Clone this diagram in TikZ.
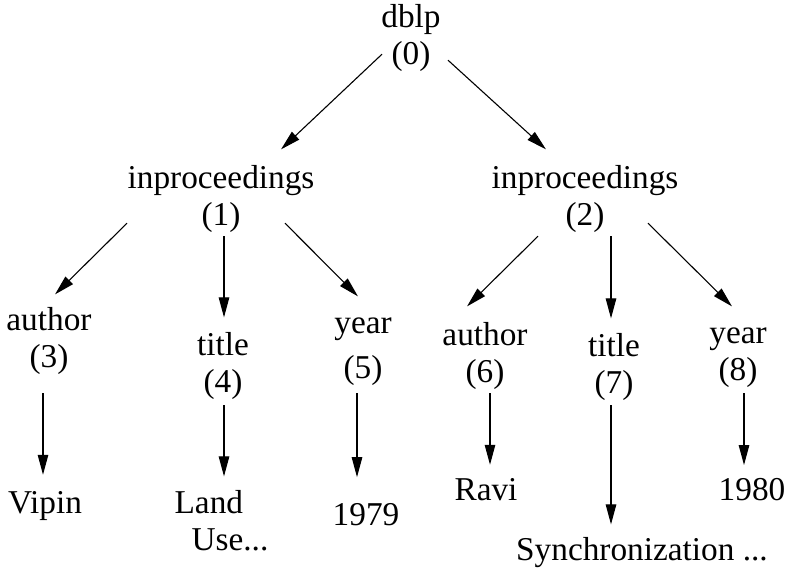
\documentclass[tikz,border=0pt]{standalone}
\usepackage{fontspec}
\setmainfont{Liberation Serif}
\usetikzlibrary{arrows.meta}

\tikzset{
  elem/.style={inner sep=0pt, align=center, anchor=base},
  val/.style={inner sep=0pt, anchor=base},
  link/.style={line width=1.1pt, -{Triangle[length=20pt,width=10.5pt]}}
}

\begin{document}
\begin{tikzpicture}[x=1pt,y=-1pt,font=\fontsize{33.3}{36.5}\selectfont]
	\useasboundingbox (0,0) rectangle (789,570);
	% element nodes
	\node[elem] (n0) at (411,64) {dblp\\(0)};
	\node[elem] (n1) at (221,225) {inproceedings\\(1)};
	\node[elem] (n2) at (585,225) {inproceedings\\(2)};
	\node[elem] (n3) at (49,367) {author\\(3)};
	\node[elem] (n4) at (223,392) {title\\(4)};
	\node[elem] (n5) at (363,378) {year\\[8.5pt](5)};
	\node[elem] (n6) at (485,382) {author\\(6)};
	\node[elem] (n7) at (614,393) {title\\(7)};
	\node[elem] (n8) at (738,380) {year\\(8)};
	% text values
	\node[val] (vipin) at (45,513) {Vipin};
	\node[elem,align=left] (land) at (221.5,550) {Land\\\hspace*{17pt}Use...};
	\node[val] (y1979) at (366,525) {1979};
	\node[val] (ravi) at (486,500) {Ravi};
	\node[val] (sync) at (642,560) {Synchronization ...};
	\node[val] (y1980) at (752,500) {1980};
	% edges
	\draw[link] ([shift={(-29,-17.1)}]n0.south) -- ([shift={(60,-15.8)}]n1.north);
	\draw[link] ([shift={(37,-11.1)}]n0.south) -- ([shift={(-39,-15.8)}]n2.north);
	\draw[link] ([shift={(-94,-9.1)}]n1.south) -- ([shift={(6,-12.8)}]n3.north);
	\draw[link] ([shift={(3,3.9)}]n1.south) -- ([shift={(1,-14.8)}]n4.north);
	\draw[link] ([shift={(64,-9.1)}]n1.south) -- ([shift={(-5,-20.7)}]n5.north);
	\draw[link] ([shift={(-47,3.9)}]n2.south) -- ([shift={(-18,-15.8)}]n6.north);
	\draw[link] ([shift={(26,3.9)}]n2.south) -- ([shift={(-3,-14.8)}]n7.north);
	\draw[link] ([shift={(63,-9.1)}]n2.south) -- ([shift={(-6,-21.2)}]n8.north);
	\draw[link] ([shift={(-6,18.9)}]n3.south) -- ([shift={(-2,-16)}]vipin.north);
	\draw[link] ([shift={(1,5.9)}]n4.south) -- ([shift={(2.5,-13.8)}]land.north);
	\draw[link] ([shift={(-6,7.9)}]n5.south) -- ([shift={(-9,-25.6)}]y1979.north);
	\draw[link] ([shift={(5,3.9)}]n6.south) -- ([shift={(4,-13)}]ravi.north);
	\draw[link] ([shift={(-3,4.9)}]n7.south) -- ([shift={(-31,-12.3)}]sync.north);
	\draw[link] ([shift={(6,5.9)}]n8.south) -- ([shift={(-8,-12.6)}]y1980.north);
\end{tikzpicture}
\end{document}
